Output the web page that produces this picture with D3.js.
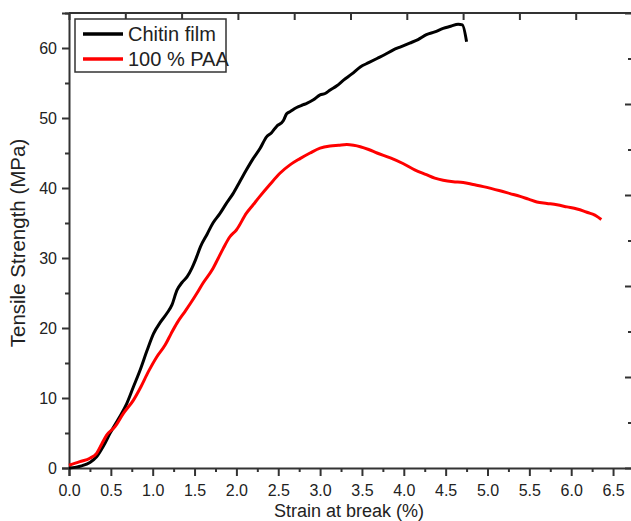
<!DOCTYPE html>
<html>
<head>
<meta charset="utf-8">
<script src="https://cdn.jsdelivr.net/npm/d3@7"></script>
<style>
  body { margin: 0; background: #fff; }
  text { font-family: Arial, "Liberation Sans", sans-serif; fill: #222; }
</style>
</head>
<body>
<script>
// strain (%) / tensile strength (MPa)
var chitinStrain = [0, 0.15, 0.25, 0.33, 0.41, 0.49, 0.59, 0.69, 0.77, 0.85, 0.93, 1.01, 1.09, 1.17, 1.23, 1.29, 1.35, 1.41, 1.47, 1.51, 1.57, 1.65, 1.72, 1.8, 1.88, 1.96, 2.04, 2.12, 2.2, 2.28, 2.36, 2.42, 2.48, 2.56, 2.6, 2.64, 2.72, 2.8, 2.84, 2.92, 3.0, 3.06, 3.12, 3.2, 3.28, 3.38, 3.48, 3.58, 3.68, 3.78, 3.87, 3.97, 4.07, 4.17, 4.27, 4.37, 4.47, 4.56, 4.65, 4.7, 4.75];
var chitinStress = [0, 0.3, 0.8, 1.6, 3.1, 4.95, 7.0, 9.2, 11.6, 14.0, 16.7, 19.2, 20.8, 22.1, 23.3, 25.4, 26.5, 27.3, 28.6, 29.7, 31.6, 33.4, 35.0, 36.3, 37.8, 39.2, 40.9, 42.6, 44.2, 45.6, 47.3, 47.9, 48.8, 49.6, 50.6, 50.9, 51.5, 51.9, 52.1, 52.6, 53.3, 53.5, 54.0, 54.6, 55.4, 56.3, 57.3, 57.9, 58.5, 59.1, 59.7, 60.2, 60.7, 61.2, 61.9, 62.3, 62.8, 63.1, 63.4, 63.3, 60.9];

var paaStrain = [0, 0.13, 0.25, 0.33, 0.39, 0.45, 0.55, 0.65, 0.77, 0.85, 0.95, 1.05, 1.15, 1.22, 1.29, 1.37, 1.45, 1.53, 1.6, 1.72, 1.78, 1.84, 1.92, 2.0, 2.12, 2.2, 2.28, 2.4, 2.52, 2.64, 2.76, 2.88, 3.0, 3.12, 3.22, 3.32, 3.4, 3.48, 3.58, 3.68, 3.84, 3.99, 4.13, 4.27, 4.37, 4.47, 4.59, 4.71, 4.83, 4.95, 5.15, 5.27, 5.39, 5.49, 5.59, 5.71, 5.83, 5.95, 6.07, 6.15, 6.22, 6.27, 6.3, 6.36];
var paaStress = [0.4, 0.9, 1.4, 2.1, 3.4, 4.7, 5.9, 7.8, 9.7, 11.4, 13.8, 15.9, 17.6, 19.2, 20.7, 22.1, 23.5, 25.0, 26.4, 28.5, 29.9, 31.3, 33.0, 34.0, 36.4, 37.6, 38.8, 40.5, 42.1, 43.3, 44.2, 45.0, 45.7, 46.0, 46.1, 46.2, 46.1, 45.9, 45.5, 45.0, 44.3, 43.5, 42.6, 41.9, 41.4, 41.1, 40.9, 40.8, 40.5, 40.2, 39.6, 39.2, 38.8, 38.4, 38.0, 37.8, 37.6, 37.3, 37.0, 36.7, 36.4, 36.2, 36.0, 35.5];

var xTicks = [0, 0.5, 1, 1.5, 2, 2.5, 3, 3.5, 4, 4.5, 5, 5.5, 6, 6.5];
var yTicks = [0, 10, 20, 30, 40, 50, 60];
var seriesNames = ["Chitin film", "100 % PAA"];
var seriesColors = ["#000000", "#ff0000"];
var xTitle = "Strain at break (%)";
var yTitle = "Tensile Strength (MPa)";

var W = 631, H = 521;
var padL = 69, padR = 632, padT = 13, padB = 468;

var svg = d3.select("body").append("svg").attr("width", W).attr("height", H);

var x = d3.scaleLinear().domain([0, (padR - padL) / 83.7]).range([padL, padR]);
var y = d3.scaleLinear().domain([0, 65]).range([padB, padT]);
// secondary (unlabelled) axes on top and right have their own spacing
var xTop = d3.scaleLinear().domain([0, 10]).range([padL, padR]);
var yRight = d3.scaleLinear().domain([0, 10]).range([padB, padT]);

var axisColor = "#333";

// bottom axis
var gx = svg.append("g").attr("transform", "translate(0," + padB + ")")
  .call(d3.axisBottom(x).tickValues(xTicks).tickFormat(d3.format(".1f")).tickSize(8).tickPadding(6));
svg.append("g").attr("transform", "translate(0," + padB + ")")
  .call(d3.axisBottom(x).tickValues(xTicks.map(function(d) { return d + 0.25; })).tickFormat("").tickSize(4))
  .select(".domain").remove();

// left axis
var gy = svg.append("g").attr("transform", "translate(" + padL + ",0)")
  .call(d3.axisLeft(y).tickValues(yTicks).tickSize(7).tickPadding(5));
svg.append("g").attr("transform", "translate(" + padL + ",0)")
  .call(d3.axisLeft(y).tickValues(yTicks.map(function(d) { return d + 5; })).tickFormat("").tickSize(4))
  .select(".domain").remove();

// top axis
svg.append("g").attr("transform", "translate(0," + padT + ")")
  .call(d3.axisBottom(xTop).ticks(10).tickFormat("").tickSize(7))
  .select(".domain").remove();
svg.append("line").attr("x1", padL).attr("x2", padR).attr("y1", padT).attr("y2", padT);

// right axis
svg.append("g").attr("transform", "translate(" + (padR - 1) + ",0)")
  .call(d3.axisLeft(yRight).tickValues(d3.range(0, 11, 2)).tickFormat("").tickSize(6))
  .select(".domain").remove();
svg.append("g").attr("transform", "translate(" + (padR - 1) + ",0)")
  .call(d3.axisLeft(yRight).tickValues(d3.range(1, 11, 2)).tickFormat("").tickSize(3))
  .select(".domain").remove();

svg.selectAll(".domain, .tick line, line").attr("stroke", axisColor).attr("stroke-width", 2);
svg.selectAll(".tick text").style("font-size", "16px").attr("fill", "#222");
gx.selectAll(".tick text").attr("dy", "0.85em");

// axis titles
svg.append("text").attr("x", 349).attr("y", 517)
  .attr("text-anchor", "middle").style("font-size", "18px").text(xTitle);
svg.append("text").attr("transform", "translate(25,243) rotate(-90)")
  .attr("text-anchor", "middle").style("font-size", "20.5px").text(yTitle);

// curves
var line = d3.line().curve(d3.curveMonotoneX)
  .x(function(d) { return x(d[0]); }).y(function(d) { return y(d[1]); });
var series = [d3.zip(chitinStrain, chitinStress), d3.zip(paaStrain, paaStress)];
svg.selectAll("path.curve").data(series).enter().append("path")
  .attr("class", "curve")
  .attr("d", line)
  .attr("fill", "none")
  .attr("stroke", function(d, i) { return seriesColors[i]; })
  .attr("stroke-width", 3)
  .attr("stroke-linejoin", "round");

// legend
var lg = svg.append("g");
lg.append("rect").attr("x", 75).attr("y", 19).attr("width", 151).attr("height", 53)
  .attr("fill", "#fff").attr("stroke", axisColor).attr("stroke-width", 1.5);
seriesNames.forEach(function(name, i) {
  var ly = 34 + i * 25;
  lg.append("line").attr("x1", 83).attr("x2", 123).attr("y1", ly).attr("y2", ly)
    .attr("stroke", seriesColors[i]).attr("stroke-width", 3.5);
  lg.append("text").attr("x", 128).attr("y", ly + 7).style("font-size", "20px").text(name);
});
</script>
</body>
</html>
